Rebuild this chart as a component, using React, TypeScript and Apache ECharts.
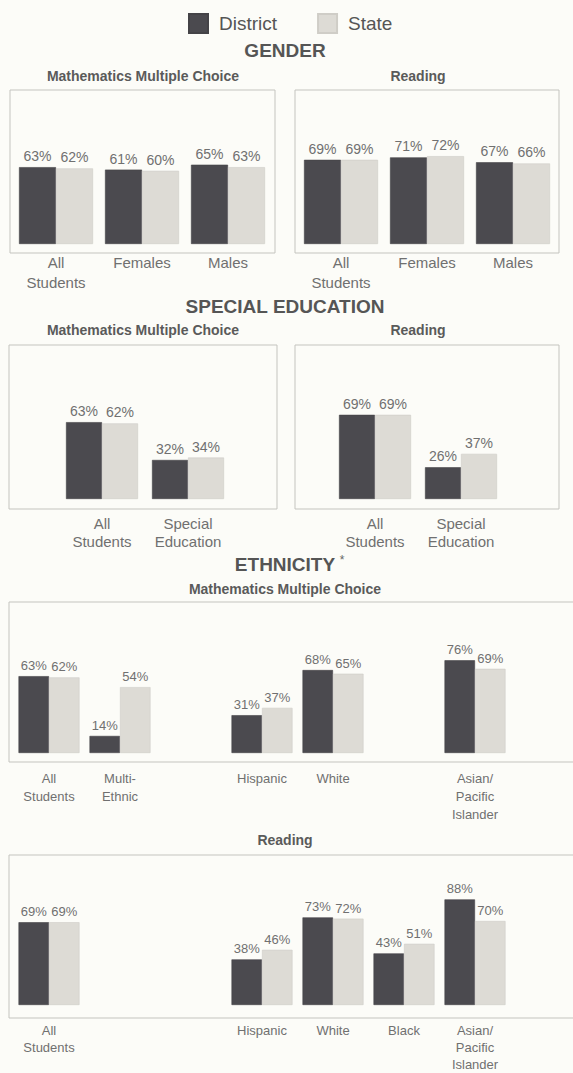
import React, { useEffect, useRef } from "react";
import * as echarts from "echarts";

const seriesNames = ["District", "State"];

const genderCats = ["All\nStudents", "Females", "Males"];
const genderMathDistrict = [63, 61, 65];
const genderMathState = [62, 60, 63];
const genderReadDistrict = [69, 71, 67];
const genderReadState = [69, 72, 66];

const speCats = ["All\nStudents", "Special\nEducation"];
const speMathDistrict = [63, 32];
const speMathState = [62, 34];
const speReadDistrict = [69, 26];
const speReadState = [69, 37];

const ethMathCats = ["All\nStudents", "Multi-\nEthnic", "", "Hispanic", "White", "", "Asian/\nPacific\nIslander"];
const ethMathDistrict = [63, 14, null, 31, 68, null, 76];
const ethMathState = [62, 54, null, 37, 65, null, 69];

const ethReadCats = ["All\nStudents", "", "", "Hispanic", "White", "Black", "Asian/\nPacific\nIslander"];
const ethReadDistrict = [69, null, null, 38, 73, 43, 88];
const ethReadState = [69, null, null, 46, 72, 51, 70];

const FONT = "'Liberation Sans', Arial, Helvetica, sans-serif";
const DARK = "#4b4a4f";
const LIGHT = "#dddbd5";
const BOX = "#c4c4bf";
const TXT = "#555555";
const LBL = "#707070";

type Panel = {
  left: number; width: number; top: number;
  cats: string[]; d: (number | null)[]; s: (number | null)[];
  barWidth: number; margin: number; lineHeight: number; fontSize: number; valueSize: number;
};

const panels: Panel[] = [
  { left: 13, width: 258, top: 122, cats: genderCats, d: genderMathDistrict, s: genderMathState, barWidth: 37, margin: 8, lineHeight: 20, fontSize: 15, valueSize: 14 },
  { left: 298, width: 258, top: 122, cats: genderCats, d: genderReadDistrict, s: genderReadState, barWidth: 37, margin: 8, lineHeight: 20, fontSize: 15, valueSize: 14 },
  { left: 59, width: 172, top: 377, cats: speCats, d: speMathDistrict, s: speMathState, barWidth: 36, margin: 15, lineHeight: 18, fontSize: 15, valueSize: 14 },
  { left: 332, width: 172, top: 377, cats: speCats, d: speReadDistrict, s: speReadState, barWidth: 36, margin: 15, lineHeight: 18, fontSize: 15, valueSize: 14 },
  { left: 13.5, width: 497, top: 631, cats: ethMathCats, d: ethMathDistrict, s: ethMathState, barWidth: 30.5, margin: 16, lineHeight: 18, fontSize: 13, valueSize: 13 },
  { left: 13.5, width: 497, top: 885, cats: ethReadCats, d: ethReadDistrict, s: ethReadState, barWidth: 30.5, margin: 17, lineHeight: 17, fontSize: 13, valueSize: 13 },
];

const PLOT_H = 122;

function text(x: number, y: number, t: string, size: number, bold = true, color = TXT, align = "center") {
  return {
    type: "text",
    x, y,
    style: { text: t, fontSize: size, fontWeight: bold ? "bold" : "normal", fill: color, fontFamily: FONT, textAlign: align, textVerticalAlign: "middle" },
  };
}

function rect(x: number, y: number, w: number, h: number) {
  return { type: "rect", shape: { x, y, width: w, height: h }, style: { fill: "none", stroke: BOX, lineWidth: 1 } };
}

function line(x1: number, y1: number, x2: number, y2: number) {
  return { type: "line", shape: { x1, y1, x2, y2 }, style: { stroke: BOX, lineWidth: 1 } };
}

export default function App() {
  const ref = useRef<HTMLDivElement>(null);
  useEffect(() => {
    document.body.style.margin = "0";
    if (!ref.current) return;
    const chart = echarts.init(ref.current, null, { renderer: "svg" });

    const grid = panels.map((p) => ({ left: p.left, width: p.width, top: p.top, height: PLOT_H, containLabel: false }));
    const xAxis = panels.map((p, i) => ({
      type: "category",
      gridIndex: i,
      data: p.cats,
      axisLine: { show: false },
      axisTick: { show: false },
      axisLabel: { interval: 0, margin: p.margin, fontSize: p.fontSize, lineHeight: p.lineHeight, color: LBL, fontFamily: FONT },
    }));
    const yAxis = panels.map((p, i) => ({
      type: "value", gridIndex: i, min: 0, max: 100, show: false, splitLine: { show: false },
    }));
    const series: any[] = [];
    panels.forEach((p, i) => {
      [p.d, p.s].forEach((vals, k) => {
        series.push({
          type: "bar",
          name: seriesNames[k],
          xAxisIndex: i,
          yAxisIndex: i,
          data: vals,
          barWidth: p.barWidth,
          barGap: "0%",
          itemStyle: { color: k === 0 ? DARK : LIGHT, borderColor: k === 0 ? "#444347" : "#cfcdc7", borderWidth: 0.6 },
          label: {
            show: true,
            position: "top",
            distance: 4,
            fontSize: p.valueSize,
            color: LBL,
            fontFamily: FONT,
            formatter: (q: any) => (q.value == null ? "" : q.value + "%"),
          },
        });
      });
    });

    const graphic: any[] = [
      text(285, 50, "GENDER", 19),
      text(143, 76, "Mathematics Multiple Choice", 14, true, "#5a5a5a"),
      text(418, 76, "Reading", 14, true, "#5a5a5a"),
      rect(10, 90, 265, 163),
      rect(295, 90, 264, 163),
      text(285, 306, "SPECIAL EDUCATION", 19),
      text(143, 330, "Mathematics Multiple Choice", 14, true, "#5a5a5a"),
      text(418, 330, "Reading", 14, true, "#5a5a5a"),
      rect(9, 345, 268, 164),
      rect(295, 345, 264, 164),
      text(285, 564, "ETHNICITY", 19),
      text(342, 560, "*", 12, false, "#666"),
      text(285, 589, "Mathematics Multiple Choice", 14, true, "#5a5a5a"),
      line(9, 602, 573, 602),
      line(9, 602, 9, 762),
      line(9, 762, 573, 762),
      text(285, 840, "Reading", 14, true, "#5a5a5a"),
      line(9, 855, 573, 855),
      line(9, 855, 9, 1018),
      line(9, 1018, 573, 1018),
    ];

    chart.setOption({
      animation: false,
      backgroundColor: "#fcfcf8",
      textStyle: { fontFamily: FONT },
      legend: {
        data: seriesNames,
        left: 183,
        top: 8,
        icon: "rect",
        itemWidth: 19,
        itemHeight: 19,
        itemGap: 40,
        textStyle: { fontSize: 19, color: TXT, fontFamily: FONT, padding: [0, 0, 0, 6] },
        selectedMode: false,
      },
      grid,
      xAxis,
      yAxis,
      series,
      graphic,
    });
    return () => chart.dispose();
  }, []);
  return <div ref={ref} style={{ width: 573, height: 1073 }} />;
}
